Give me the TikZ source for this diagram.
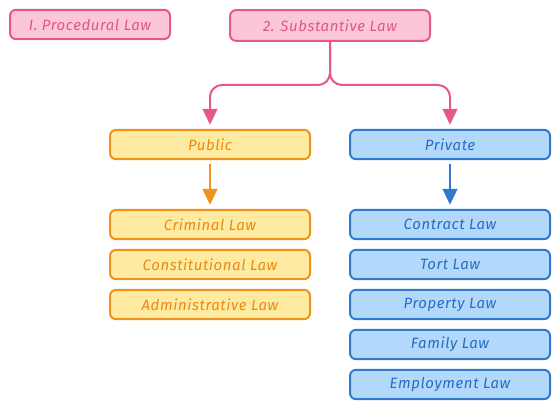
\documentclass[tikz,border=0pt]{standalone}
\usepackage{fontspec}
\setmainfont{Fira Sans}[LetterSpace=4]
\usetikzlibrary{arrows.meta}
\definecolor{pkfill}{HTML}{FCC6D9}
\definecolor{pkdraw}{HTML}{E8578A}
\definecolor{pktext}{HTML}{E0568A}
\definecolor{ylfill}{HTML}{FEEBA1}
\definecolor{yldraw}{HTML}{F0921C}
\definecolor{yltext}{HTML}{E98B12}
\definecolor{blfill}{HTML}{B2D9FC}
\definecolor{bldraw}{HTML}{2F7ACC}
\definecolor{bltext}{HTML}{2A6BC0}
\tikzset{
  box/.style={rounded corners=4.5pt, line width=1.5pt, minimum height=22pt, inner sep=0pt,
    font=\itshape\fontsize{11.2}{13}\selectfont},
  pk/.style={box, fill=pkfill, draw=pkdraw, text=pktext},
  yl/.style={box, fill=ylfill, draw=yldraw, text=yltext, minimum width=150pt},
  bl/.style={box, fill=blfill, draw=bldraw, text=bltext, minimum width=150pt},
  conn/.style={line width=1.5pt, rounded corners=9pt, shorten >=3pt},
}
\begin{document}
\begin{tikzpicture}[x=0.75pt,y=-0.75pt]
\useasboundingbox (0,0) rectangle (560,409);
\node[pk, minimum width=120pt, minimum height=22pt] (proc) at (90,24.5) {I. Procedural Law};
\node[pk, minimum width=150pt, minimum height=23pt] (sub) at (330,25.5) {2. Substantive Law};
\node[yl] (pub) at (210,144.5) {Public};
\node[bl] (pri) at (450,144.5) {Private};
\node[yl] (crim) at (210,224.5) {Criminal Law};
\node[yl] (const) at (210,264.5) {Constitutional Law};
\node[yl] (adm) at (210,304.5) {Administrative Law};
\node[bl] (con) at (450,224.5) {Contract Law};
\node[bl] (tort) at (450,264.5) {Tort Law};
\node[bl] (prop) at (450,304.5) {Property Law};
\node[bl] (fam) at (450,344.5) {Family Law};
\node[bl] (emp) at (450,384.5) {Employment Law};
\coordinate (j) at (330,85);
\draw[conn, draw=pkdraw, -{Triangle[width=11pt,length=12pt,fill=pkdraw]}] (sub.south) -- (j) -| (pub.north);
\draw[conn, draw=pkdraw, -{Triangle[width=11pt,length=12pt,fill=pkdraw]}] (sub.south) -- (j) -| (pri.north);
\draw[conn, draw=yldraw, shorten <=3pt, -{Triangle[width=11pt,length=12pt,fill=yldraw]}] (pub.south) -- (crim.north);
\draw[conn, draw=bldraw, shorten <=3pt, -{Triangle[width=11pt,length=12pt,fill=bldraw]}] (pri.south) -- (con.north);
\end{tikzpicture}
\end{document}
